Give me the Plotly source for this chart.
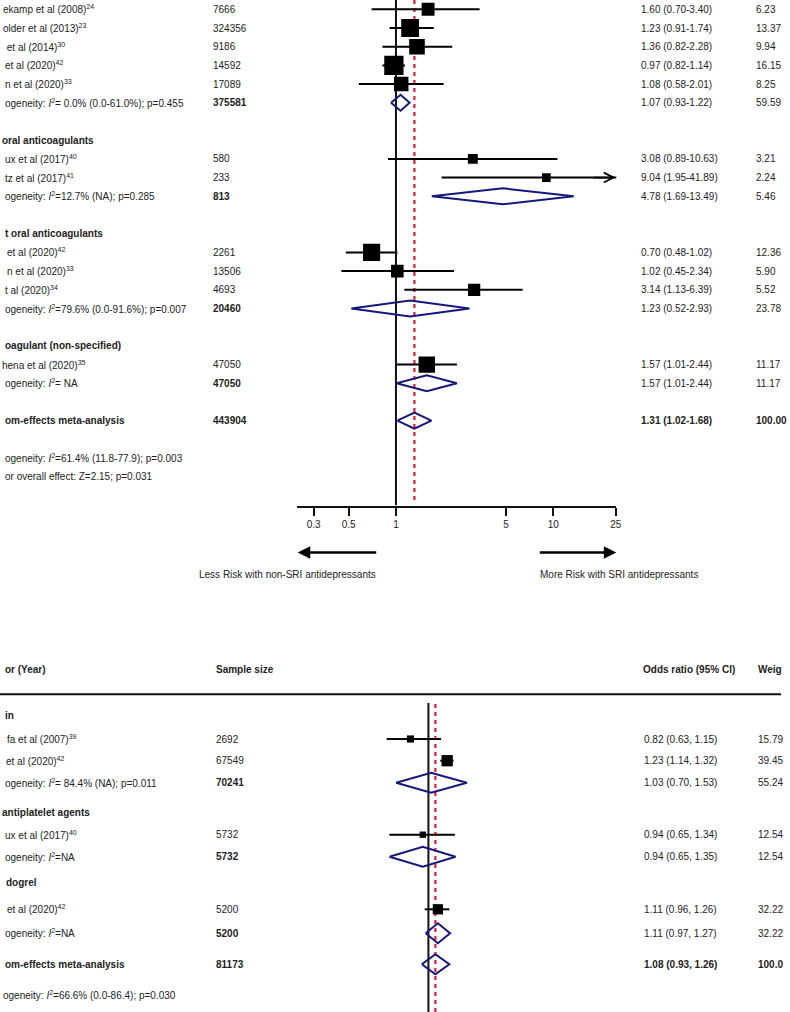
import math
import plotly.graph_objects as go

W, H = 790, 1012
FONT = "Arial, 'Liberation Sans', Helvetica, sans-serif"
TXT = "#222222"
NAVY = "#17177a"
RED = "#dc1e3c"

# ---------------- Top panel data ----------------
top_labels = [
    "ekamp et al (2008)<sup>24</sup>",
    "older et al (2013)<sup>23</sup>",
    " et al (2014)<sup>30</sup>",
    "et al (2020)<sup>42</sup>",
    "n et al (2020)<sup>33</sup>",
    "ogeneity: <i>I</i><sup>2</sup>= 0.0% (0.0-61.0%); p=0.455",
    "oral anticoagulants",
    "ux et al (2017)<sup>40</sup>",
    "tz et al (2017)<sup>41</sup>",
    "ogeneity: <i>I</i><sup>2</sup>=12.7% (NA); p=0.285",
    "t oral anticoagulants",
    "et al (2020)<sup>42</sup>",
    "n et al (2020)<sup>33</sup>",
    "t al (2020)<sup>34</sup>",
    "ogeneity: <i>I</i><sup>2</sup>=79.6% (0.0-91.6%); p=0.007",
    "oagulant (non-specified)",
    "hena et al (2020)<sup>35</sup>",
    "ogeneity: <i>I</i><sup>2</sup>= NA",
    "om-effects meta-analysis",
    "ogeneity: <i>I</i><sup>2</sup>=61.4% (11.8-77.9); p=0.003",
    "or overall effect: Z=2.15; p=0.031",
]
top_kind = ["study", "study", "study", "study", "study", "pooled", "header",
            "study", "study", "pooled", "header", "study", "study", "study",
            "pooled", "header", "study", "pooled", "overall", "note", "note"]
top_n = [7666, 324356, 9186, 14592, 17089, 375581, None, 580, 233, 813, None,
         2261, 13506, 4693, 20460, None, 47050, 47050, 443904, None, None]
top_or = [1.60, 1.23, 1.36, 0.97, 1.08, 1.07, None, 3.08, 9.04, 4.78, None,
          0.70, 1.02, 3.14, 1.23, None, 1.57, 1.57, 1.31, None, None]
top_lo = [0.70, 0.91, 0.82, 0.82, 0.58, 0.93, None, 0.89, 1.95, 1.69, None,
          0.48, 0.45, 1.13, 0.52, None, 1.01, 1.01, 1.02, None, None]
top_hi = [3.40, 1.74, 2.28, 1.14, 2.01, 1.22, None, 10.63, 41.89, 13.49, None,
          1.02, 2.34, 6.39, 2.93, None, 2.44, 2.44, 1.68, None, None]
top_w = [6.23, 13.37, 9.94, 16.15, 8.25, 59.59, None, 3.21, 2.24, 5.46, None,
         12.36, 5.90, 5.52, 23.78, None, 11.17, 11.17, 100.00, None, None]
top_ticks = [0.3, 0.5, 1, 5, 10, 25]
top_axis_max = 25
left_note = "Less Risk with non-SRI antidepressants"
right_note = "More Risk with SRI antidepressants"

# ---------------- Bottom panel data ----------------
bot_headers = ["or (Year)", "Sample size", "Odds ratio (95% CI)", "Weig"]
bot_labels = [
    "in",
    "fa et al (2007)<sup>39</sup>",
    "et al (2020)<sup>42</sup>",
    "ogeneity: <i>I</i><sup>2</sup>= 84.4% (NA); p=0.011",
    "antiplatelet agents",
    "ux et al (2017)<sup>40</sup>",
    "ogeneity: <i>I</i><sup>2</sup>=NA",
    "dogrel",
    "et al (2020)<sup>42</sup>",
    "ogeneity: <i>I</i><sup>2</sup>=NA",
    "om-effects meta-analysis",
    "ogeneity: <i>I</i><sup>2</sup>=66.6% (0.0-86.4); p=0.030",
]
bot_kind = ["header", "study", "study", "pooled", "header", "study", "pooled",
            "header", "study", "pooled", "overall", "note"]
bot_n = [None, 2692, 67549, 70241, None, 5732, 5732, None, 5200, 5200, 81173, None]
bot_or = [None, 0.82, 1.23, 1.03, None, 0.94, 0.94, None, 1.11, 1.11, 1.08, None]
bot_lo = [None, 0.63, 1.14, 0.70, None, 0.65, 0.65, None, 0.96, 0.97, 0.93, None]
bot_hi = [None, 1.15, 1.32, 1.53, None, 1.34, 1.35, None, 1.26, 1.27, 1.26, None]
bot_w = [None, 15.79, 39.45, 55.24, None, 12.54, 12.54, None, 32.22, 32.22, 100.0, None]

# ---------------- Layout (positions, not data) ----------------
top_rows = [0, 1, 2, 3, 4, 5, 7, 8, 9, 10, 12, 13, 14, 15, 16, 18, 19, 20, 22, 24, 25]
top_label_x = [1, 1, 2, 3, 3, 3, 0, 3, 3, 3, 3, 5, 5, 3, 3, 3, 0, 3, 3, 3, 3]
ROW0_PX, ROW_PX = 9.3, 18.7
TOP_AXIS_PX = 505.5
TOP_NULL_PX, TOP_PPD = 399.0, 158.5          # pixel of OR=1, pixels per decade
TOP_X0_PX, TOP_X1_PX = 299.0, 621.0

bot_rows_px = [715, 739, 760.7, 782.7, 812.7, 834.7, 856.7, 882.7, 909.3, 933.3, 964.3, 995]
bot_label_x = [3, 5, 4, 3, 0, 3, 3, 4, 5, 3, 3, 1]
BOT_NULL_PX, BOT_PPD = 431.7, 210.0
BOT_TOP_PX = 703

COL_N_TOP, COL_OR_TOP, COL_W_TOP = 213, 643.5, 760
COL_N_BOT, COL_OR_BOT, COL_W_BOT = 216, 646.5, 761.5


def px(x):
    return x / W


def py(y):
    return 1 - y / H


fig = go.Figure()

top_rng_x = [(TOP_X0_PX - TOP_NULL_PX) / TOP_PPD, (TOP_X1_PX - TOP_NULL_PX) / TOP_PPD]
top_rng_y = [(TOP_AXIS_PX - ROW0_PX) / ROW_PX, (0 - ROW0_PX) / ROW_PX]
bot_rng_x = [(0 - BOT_NULL_PX) / BOT_PPD, (W - BOT_NULL_PX) / BOT_PPD]
bot_rng_y = [H, BOT_TOP_PX]

# null line + overall line (top)
overall_top = top_or[top_kind.index("overall")]
fig.add_trace(go.Scatter(x=[1, 1], y=list(top_rng_y), mode="lines",
                         line=dict(color="#111", width=2), xaxis="x", yaxis="y",
                         hoverinfo="skip", showlegend=False))
fig.add_trace(go.Scatter(x=[overall_top, overall_top],
                         y=[(500 - ROW0_PX) / ROW_PX, top_rng_y[1]], mode="lines",
                         line=dict(color=RED, width=2.2, dash="4px,4px"),
                         xaxis="x", yaxis="y", hoverinfo="skip", showlegend=False))

# null line + overall line (bottom)
overall_bot = bot_or[bot_kind.index("overall")]
fig.add_trace(go.Scatter(x=[1, 1], y=list(bot_rng_y), mode="lines",
                         line=dict(color="#111", width=2), xaxis="x2", yaxis="y2",
                         hoverinfo="skip", showlegend=False))
fig.add_trace(go.Scatter(x=[overall_bot, overall_bot], y=list(bot_rng_y), mode="lines",
                         line=dict(color=RED, width=2.2, dash="4px,4px"),
                         xaxis="x2", yaxis="y2", hoverinfo="skip", showlegend=False))


def add_panel(kinds, ors, los, his, ws, rows, xa, ya, size_fn, half_h):
    for k, o, lo, hi, w, r in zip(kinds, ors, los, his, ws, rows):
        if k == "study":
            fig.add_trace(go.Scatter(x=[lo, hi], y=[r, r], mode="lines",
                                     line=dict(color="#000", width=2),
                                     xaxis=xa, yaxis=ya, hoverinfo="skip", showlegend=False))
            fig.add_trace(go.Scatter(x=[o], y=[r], mode="markers",
                                     marker=dict(symbol="square", size=size_fn(w), color="#000",
                                                 line=dict(width=0)),
                                     xaxis=xa, yaxis=ya, hoverinfo="skip", showlegend=False))
        elif k in ("pooled", "overall"):
            fig.add_trace(go.Scatter(x=[lo, o, hi, o, lo],
                                     y=[r, r - half_h, r, r + half_h, r], mode="lines",
                                     line=dict(color=NAVY, width=2),
                                     xaxis=xa, yaxis=ya, hoverinfo="skip", showlegend=False))


add_panel(top_kind, top_or, top_lo, top_hi, top_w, top_rows, "x", "y",
          lambda w: 2.4 + 4.2 * math.sqrt(w), 8.0 / ROW_PX)
add_panel(bot_kind, bot_or, bot_lo, bot_hi, bot_w, bot_rows_px, "x2", "y2",
          lambda w: 1.8 * math.sqrt(w), 10.0)

ann = []


def txt(x, y, s, xref="paper", yref="paper", bold=False, anchor="left"):
    ann.append(dict(x=x, y=y, xref=xref, yref=yref, text=("<b>%s</b>" % s) if bold else s,
                    showarrow=False, xanchor=anchor, yanchor="middle",
                    font=dict(family=FONT, size=10, color=TXT)))


# ---- top texts ----
for i, r in enumerate(top_rows):
    k = top_kind[i]
    bold = k in ("header", "overall")
    txt(px(top_label_x[i]), r, top_labels[i], yref="y", bold=bold)
    if top_n[i] is not None:
        txt(px(COL_N_TOP), r, str(top_n[i]), yref="y", bold=k in ("pooled", "overall"))
    if top_or[i] is not None:
        s = "%.2f (%.2f-%.2f)" % (top_or[i], top_lo[i], top_hi[i])
        txt(px(COL_OR_TOP), r, s, yref="y", bold=(k == "overall"))
        txt(px(COL_W_TOP), r, "%.2f" % top_w[i], yref="y", bold=(k == "overall"))

# arrow for CI beyond axis max (top)
for i, r in enumerate(top_rows):
    if top_hi[i] is not None and top_hi[i] > top_axis_max:
        ann.append(dict(x=top_rng_x[1] - 0.004, y=r, xref="x", yref="y",
                        ax=math.log10(top_axis_max) - 0.15, ay=r, axref="x", ayref="y",
                        text="", showarrow=True, arrowhead=5, arrowsize=1.2,
                        arrowwidth=1.6, arrowcolor="#000", standoff=0))

# direction arrows + notes
ann.append(dict(x=px(300), y=py(552.5), xref="paper", yref="paper", ax=80, ay=0,
                text="", showarrow=True, arrowhead=2, arrowsize=1.0, arrowwidth=2.5,
                arrowcolor="#000", standoff=0))
ann.append(dict(x=px(621), y=py(552.5), xref="paper", yref="paper", ax=-78, ay=0,
                text="", showarrow=True, arrowhead=2, arrowsize=1.0, arrowwidth=2.5,
                arrowcolor="#000", standoff=0))
txt(px(381), py(574.5), left_note, anchor="right")
txt(px(542), py(574.5), right_note)

# ---- bottom texts ----
for s, x in zip(bot_headers, [3, 216, 645.5, 761.5]):
    txt(px(x), py(669), s, bold=True)

for i, r in enumerate(bot_rows_px):
    k = bot_kind[i]
    bold = k in ("header", "overall")
    txt(px(bot_label_x[i]), r, bot_labels[i], yref="y2", bold=bold)
    if bot_n[i] is not None:
        txt(px(COL_N_BOT), r, str(bot_n[i]), yref="y2", bold=k in ("pooled", "overall"))
    if bot_or[i] is not None:
        s = "%.2f (%.2f, %.2f)" % (bot_or[i], bot_lo[i], bot_hi[i])
        txt(px(COL_OR_BOT), r, s, yref="y2", bold=(k == "overall"))
        wfmt = "%.1f" if k == "overall" else "%.2f"
        txt(px(COL_W_BOT), r, wfmt % bot_w[i], yref="y2", bold=(k == "overall"))

shapes = [dict(type="line", xref="paper", yref="paper", x0=0, x1=px(787),
               y0=py(694.3), y1=py(694.3), line=dict(color="#111", width=2))]

fig.update_layout(
    width=W, height=H, margin=dict(l=0, r=0, t=0, b=0),
    paper_bgcolor="white", plot_bgcolor="rgba(0,0,0,0)",
    showlegend=False, annotations=ann, shapes=shapes,
    font=dict(family=FONT, size=10, color=TXT),
    xaxis=dict(type="log", domain=[px(TOP_X0_PX), px(TOP_X1_PX)], range=top_rng_x,
               anchor="y", showline=True, linewidth=2, linecolor="#111",
               ticks="outside", ticklen=8, tickwidth=2, tickcolor="#111",
               tickvals=top_ticks, ticktext=[("%g" % t) for t in top_ticks],
               tickfont=dict(family=FONT, size=10, color=TXT),
               showgrid=False, zeroline=False, fixedrange=True),
    yaxis=dict(domain=[py(TOP_AXIS_PX), 1], range=top_rng_y, visible=False,
               fixedrange=True),
    xaxis2=dict(type="log", domain=[0, 1], range=bot_rng_x, anchor="y2",
                visible=False, fixedrange=True),
    yaxis2=dict(domain=[0, py(BOT_TOP_PX)], range=bot_rng_y, anchor="x2",
                visible=False, fixedrange=True),
)

fig.write_html(
    "out.html",
    config={"displayModeBar": False, "staticPlot": True},
    post_script="document.body.style.margin='0';document.body.style.padding='0';"
                "document.body.style.overflow='hidden';"
                "document.documentElement.style.overflow='hidden';",
)
